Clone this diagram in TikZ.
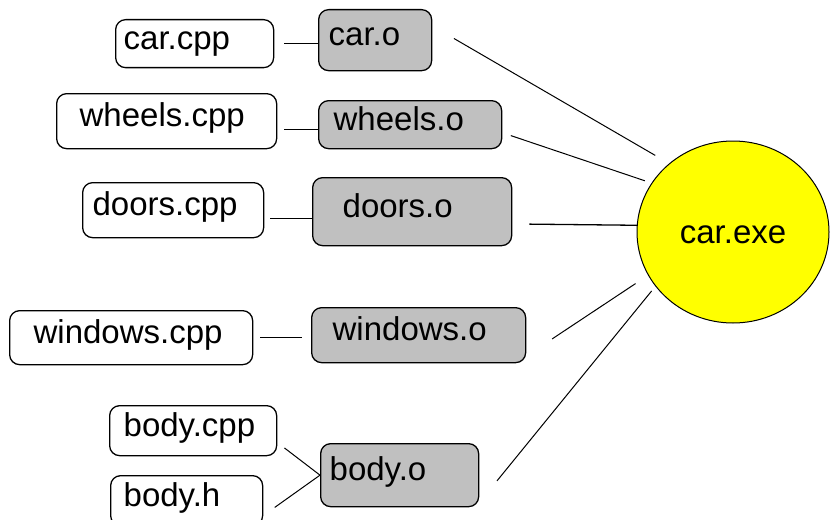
\documentclass[tikz,border=0pt]{standalone}
\usepackage{fontspec}
\setmainfont{Liberation Sans}
\usetikzlibrary{shapes.geometric}
\definecolor{objgray}{HTML}{C0C0C0}
\definecolor{exeyellow}{HTML}{FFFF00}

\begin{document}
\begin{tikzpicture}[x=1pt,y=-1pt,
  every node/.style={font=\fontsize{33}{40}\selectfont},
  filebox/.style={draw,rounded corners=10pt,line width=1.3pt,anchor=north west,align=left,
    inner ysep=0pt,text height=23pt,text depth=12pt},
  srcbox/.style={filebox,fill=white},
  objbox/.style={filebox,fill=objgray},
  wire/.style={line width=1.3pt},
  link/.style={line width=1pt}]
\useasboundingbox (0,0) rectangle (832,519);
\clip (0,0) rectangle (832,519);
% sources
\node[srcbox,text width=142pt,inner xsep=8pt,minimum height=48pt] (carcpp) at (115,19) {car.cpp};
\node[srcbox,text width=174pt,inner xsep=23pt,minimum height=55pt] (wheelscpp) at (56,93) {wheels.cpp};
\node[srcbox,text width=161pt,inner xsep=10pt,minimum height=55pt] (doorscpp) at (82,182) {doors.cpp};
\node[srcbox,text width=195pt,inner xsep=24pt,minimum height=54pt] (windowscpp) at (9,310) {windows.cpp};
\node[srcbox,text width=139pt,inner xsep=14pt,minimum height=50pt] (bodycpp) at (109,405) {body.cpp};
\node[srcbox,text width=126pt,inner xsep=13pt,minimum height=50pt] (bodyh) at (110,475) {body.h};
% objects
\node[objbox,text width=93pt,inner xsep=10pt,minimum height=61pt] (caro) at (318,9) {car.o};
\node[objbox,text width=153pt,inner xsep=15pt,minimum height=48pt] (wheelso) at (318,100) {wheels.o};
\node[objbox,text width=139pt,inner xsep=30pt,minimum height=68pt] (doorso) at (312,177) {doors.o};
\node[objbox,text width=172pt,inner xsep=21pt,minimum height=55pt] (windowso) at (311,307) {windows.o};
\node[objbox,text width=140pt,inner xsep=9pt,minimum height=63pt] (bodyo) at (320,443) {body.o};
% executable
\node[ellipse,draw,fill=exeyellow,line width=1pt,minimum width=192pt,minimum height=182pt,inner sep=0pt,
  text height=22pt,text depth=0pt] (exe) at (733,232) {car.exe};
% compile
\draw[wire,shorten <=10pt] (carcpp.east) -- (carcpp.east -| caro.west);
\draw[wire,shorten <=7pt] (wheelso.183 -| wheelscpp.east) -- (wheelso.183);
\draw[wire,shorten <=6pt] (doorso.184 -| doorscpp.east) -- (doorso.184);
\draw[wire,shorten <=7pt,shorten >=9pt] (windowscpp.east) -- (windowscpp.east -| windowso.west);
\draw[link,shorten <=9pt] (bodycpp.-8) -- (bodyo.west);
\draw[link,shorten <=14pt] (bodyh.-11) -- (bodyo.west);
% link
\draw[link,shorten <=25pt,shorten >=16pt] (caro.14) -- (exe.133);
\draw[link,shorten <=9pt,shorten >=7pt] (wheelso.-5) -- (exe.149);
\draw[wire,shorten <=17pt] (doorso.-7) -- (exe.176);
\draw[link,shorten <=31pt,shorten >=15pt] (windowso.-11) -- (exe.207);
\draw[link,shorten <=28pt,shorten >=6pt] (bodyo.-19) -- (exe.215);
\end{tikzpicture}
\end{document}
